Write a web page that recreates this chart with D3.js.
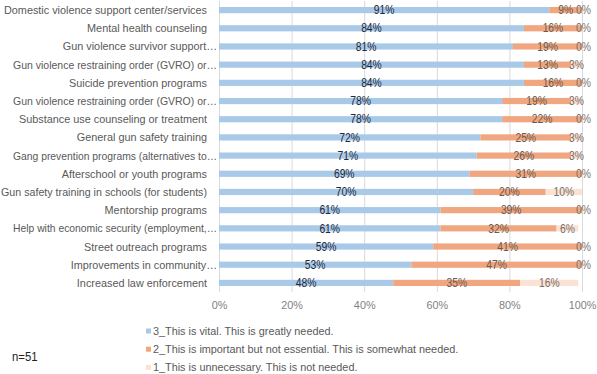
<!DOCTYPE html>
<html><head><meta charset="utf-8">
<script src="https://cdn.jsdelivr.net/npm/d3@7"></script>
<style>
body{margin:0;background:#fff;}
svg{display:block;font-family:"Liberation Sans",Arial,sans-serif;}
</style></head>
<body><svg id="c" width="597" height="374"></svg>
<script>
const categories = [
  "Domestic violence support center/services",
  "Mental health counseling",
  "Gun violence survivor support…",
  "Gun violence restraining order (GVRO) or…",
  "Suicide prevention programs",
  "Gun violence restraining order (GVRO) or…",
  "Substance use counseling or treatment",
  "General gun safety training",
  "Gang prevention programs (alternatives to…",
  "Afterschool or youth programs",
  "Gun safety training in schools (for students)",
  "Mentorship programs",
  "Help with economic security (employment,…",
  "Street outreach programs",
  "Improvements in community…",
  "Increased law enforcement"
];
const vital =       [91,84,81,84,84,78,78,72,71,69,70,61,61,59,53,48];
const important =   [9,16,19,13,16,19,22,25,26,31,20,39,32,41,47,35];
const unnecessary = [0,0,0,3,0,3,0,3,3,0,10,0,6,0,0,16];
const seriesNames = [
  "3_This is vital. This is greatly needed.",
  "2_This is important but not essential. This is somewhat needed.",
  "1_This is unnecessary. This is not needed."
];
const seriesColors = ["#A9C9E9","#F0A67E","#FBE3D4"];
const labelColors = ["#1e2a38","#6b5a50","#7a6f6a"];
const xTicks = [0,20,40,60,80,100];
const note = "n=51";

const FS = 11.5;
const svg = d3.select("#c");
const probe = svg.append("text").attr("font-size",FS).text(categories[0]);
const narrow = 203 / probe.node().getComputedTextLength();
probe.remove();
function squeeze(sel, maxW, f){
  const fac = f || narrow;
  sel.each(function(){
    let w = this.getComputedTextLength()*fac;
    if (maxW && w > maxW) w = maxW;
    d3.select(this).attr("textLength", w).attr("lengthAdjust","spacingAndGlyphs");
  });
}

const rows = categories.map((c,i)=>({cat:c, i, v:[vital[i],important[i],unnecessary[i]]}));
const x = d3.scaleLinear().domain([0,100]).range([219,582]);
const y = d3.scaleBand().domain(d3.range(categories.length)).range([1,292]).paddingInner(0.66).paddingOuter(0.33);

svg.append("g").selectAll("line").data(xTicks).join("line")
  .attr("x1",d=>x(d)+0.5).attr("x2",d=>x(d)+0.5).attr("y1",1).attr("y2",292)
  .attr("stroke","#d9d9d9").attr("stroke-width",1);

const stack = d3.stack().keys([0,1,2]).value((d,k)=>d.v[k]);
const layers = stack(rows);
const g = svg.append("g");
layers.forEach((layer,k)=>{
  g.selectAll(null).data(layer).join("rect")
    .attr("x",d=>x(d[0])).attr("width",d=>x(d[1])-x(d[0]))
    .attr("y",(d,i)=>y(i)).attr("height",y.bandwidth())
    .attr("fill",seriesColors[k]);
});
layers.forEach((layer,k)=>{
  g.selectAll(null).data(layer).join("text")
    .attr("x",d=>x((d[0]+d[1])/2) + (d[1]-d[0]===0 ? 1.5 : 0)).attr("y",(d,i)=>y(i)+y.bandwidth()/2)
    .attr("dy","0.35em").attr("text-anchor","middle")
    .attr("font-size",12).attr("fill",labelColors[k])
    .text(d=>(d[1]-d[0])+"%").call(squeeze, null, 0.86);
});

const cl = svg.append("g").selectAll("text").data(rows).join("text")
  .attr("x",d=>d.cat.endsWith("…")?217:207)
  .attr("y",d=>y(d.i)+y.bandwidth()/2).attr("dy","0.35em")
  .attr("text-anchor","end").attr("font-size",FS).attr("fill","#595959")
  .text(d=>d.cat);
cl.each(function(d){
  const anchor = d.cat.endsWith("…")?217:207;
  d3.select(this).call(squeeze, d.cat.endsWith("…") ? 204 : anchor-1);
});

const xAxis = d3.axisBottom(x).tickValues(xTicks).tickFormat(d=>d+"%").tickSize(0).tickPadding(0);
const ax = svg.append("g").attr("transform","translate(0,301)").call(xAxis);
ax.select(".domain").remove();
ax.selectAll("text").attr("font-size",FS).attr("fill","#7f7f7f").attr("dy","0.71em")
  .style("font-family","inherit").call(squeeze);

const leg = svg.append("g");
seriesNames.forEach((n,k)=>{
  const yy = 331 + k*18.2;
  leg.append("rect").attr("x",146).attr("y",yy-2.5).attr("width",5).attr("height",5).attr("fill",seriesColors[k]);
  leg.append("text").attr("x",153).attr("y",yy).attr("dy","0.35em").attr("font-size",FS).attr("fill","#595959").text(n).call(squeeze);
});
svg.append("text").attr("x",12).attr("y",357).attr("dy","0.35em").attr("font-size",12).attr("fill","#222").text(note).call(squeeze);
</script></body></html>
